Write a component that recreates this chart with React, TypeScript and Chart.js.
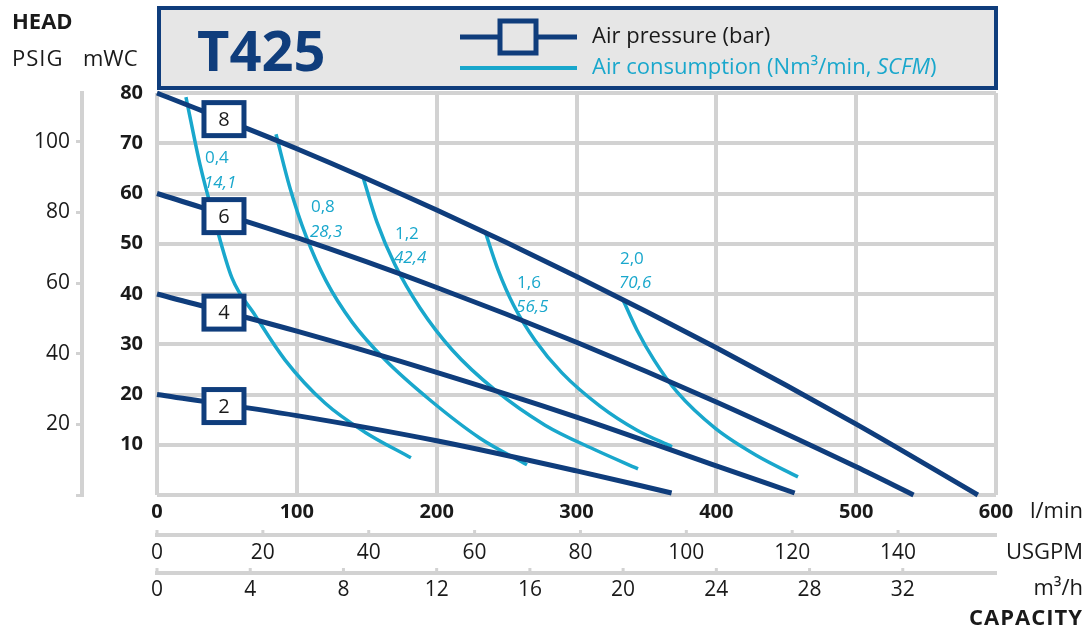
import React, { useEffect, useRef } from 'react';
import { Chart, registerables } from 'chart.js';

Chart.register(...registerables);

const FONT = "'Open Sans', 'DejaVu Sans', sans-serif";
const NAVY = '#0f3d7c';
const CYAN = '#19a7cc';
const GRID = '#d2d2d2';
const TEXT = '#1a1a1a';
const HEADER_BG = '#e6e6e6';

// Axis ticks
const LPM_TICKS = [0, 100, 200, 300, 400, 500, 600];
const USGPM_TICKS = [0, 20, 40, 60, 80, 100, 120, 140];
const M3H_TICKS = [0, 4, 8, 12, 16, 20, 24, 28, 32];
const MWC_TICKS = [0, 10, 20, 30, 40, 50, 60, 70, 80];
const PSIG_TICKS = [0, 20, 40, 60, 80, 100];

// Air pressure curves (bar): flow l/min vs head mWC
const PRESSURE_LABELS = ['8', '6', '4', '2'];
const P8_X = [0, 100, 200, 300, 400, 500, 587];
const P8_Y = [80, 68.9, 56.7, 43.5, 29.3, 14.1, 0];
const P6_X = [0, 100, 200, 300, 400, 500, 541];
const P6_Y = [60, 51.2, 41.3, 30.4, 18.5, 5.6, 0];
const P4_X = [0, 100, 200, 300, 400, 456];
const P4_Y = [40, 32.6, 24.4, 15.5, 5.8, 0.4];
const P2_X = [0, 100, 200, 300, 368];
const P2_Y = [20, 15.8, 10.8, 4.8, 0.4];
const BOX_X = [47.9, 47.9, 47.9, 47.9];
const BOX_Y = [74.8, 55.5, 36.3, 17.7];

// Air consumption curves (Nm3/min, SCFM)
const AIR_NM3 = ['0,4', '0,8', '1,2', '1,6', '2,0'];
const AIR_SCFM = ['14,1', '28,3', '42,4', '56,5', '70,6'];
const A04_X = [20.7, 30.8, 40.8, 53.6, 70.1, 91.5, 120.1, 148.7, 181.6];
const A04_Y = [79.2, 65.7, 55.1, 43.2, 35.8, 26.9, 18.3, 12.5, 7.4];
const A08_X = [85.1, 95.1, 106.6, 120.9, 139.5, 163.1, 195.2, 231.0, 264.6];
const A08_Y = [71.8, 61.1, 51.5, 42.6, 34.4, 26.9, 18.9, 11.3, 6.0];
const A12_X = [147.3, 157.3, 170.2, 188.1, 211.0, 241.7, 277.5, 313.2, 344.0];
const A12_Y = [63.3, 54.3, 45.8, 37.2, 28.9, 20.9, 13.9, 9.0, 5.2];
const A16_X = [234.6, 243.9, 255.3, 270.3, 289.6, 316.8, 343.3, 368.3];
const A16_Y = [52.5, 44.8, 37.6, 30.8, 24.3, 17.7, 12.9, 9.6];
const A20_X = [333.3, 343.3, 355.4, 371.9, 399.1, 429.1, 458.4];
const A20_Y = [38.8, 32.8, 26.9, 20.5, 13.3, 7.8, 3.6];
const AIR_LABEL_X = [34.3, 110.1, 170.2, 257.5, 331.1];
const AIR_LABEL_Y1 = [67.1, 57.3, 51.9, 42.2, 47.0];
const AIR_LABEL_Y2 = [62.1, 52.3, 47.2, 37.4, 42.2];

const LPM_PER_USGPM = 3.785411784;
const LPM_PER_M3H = 1000 / 60;
const PSI_PER_MWC = 1.42233;

const pts = (xs: number[], ys: number[]) => xs.map((x, i) => ({ x, y: ys[i] }));

const setTicks = (vals: number[]) => (scale: any) => {
  scale.ticks = vals.map((v) => ({ value: v }));
};

const overlay = {
  id: 'overlay',
  afterDatasetsDraw(chart: any) {
    const ctx = chart.ctx as CanvasRenderingContext2D;
    const xs = chart.scales.x;
    const ys = chart.scales.y;
    ctx.save();
    // pressure boxes
    for (let i = 0; i < PRESSURE_LABELS.length; i++) {
      const px = xs.getPixelForValue(BOX_X[i]);
      const py = ys.getPixelForValue(BOX_Y[i]);
      ctx.fillStyle = '#ffffff';
      ctx.fillRect(px - 20, py - 16.5, 40, 33);
      ctx.strokeStyle = NAVY;
      ctx.lineWidth = 5;
      ctx.strokeRect(px - 20, py - 16.5, 40, 33);
      ctx.fillStyle = TEXT;
      ctx.font = `20px ${FONT}`;
      ctx.textAlign = 'center';
      ctx.textBaseline = 'middle';
      ctx.fillText(PRESSURE_LABELS[i], px, py + 1);
    }
    // air consumption labels
    ctx.fillStyle = CYAN;
    ctx.textAlign = 'left';
    ctx.textBaseline = 'middle';
    for (let i = 0; i < AIR_NM3.length; i++) {
      const px = xs.getPixelForValue(AIR_LABEL_X[i]);
      ctx.font = `17px ${FONT}`;
      ctx.fillText(AIR_NM3[i], px, ys.getPixelForValue(AIR_LABEL_Y1[i]));
      ctx.font = `italic 17px ${FONT}`;
      ctx.fillText(AIR_SCFM[i], px - 1, ys.getPixelForValue(AIR_LABEL_Y2[i]));
    }
    ctx.restore();
  },
  afterDraw(chart: any) {
    const ctx = chart.ctx as CanvasRenderingContext2D;
    const area = chart.chartArea;
    ctx.save();
    // header box
    const hx = area.left + 2;
    const hw = area.right - area.left - 2;
    ctx.fillStyle = HEADER_BG;
    ctx.fillRect(hx, 8, hw, 80);
    ctx.strokeStyle = NAVY;
    ctx.lineWidth = 4;
    ctx.strokeRect(hx, 8, hw, 80);
    ctx.fillStyle = NAVY;
    ctx.font = `bold 56px ${FONT}`;
    ctx.textAlign = 'left';
    ctx.textBaseline = 'alphabetic';
    ctx.fillText('T425', 197, 71);
    // legend
    ctx.strokeStyle = NAVY;
    ctx.lineWidth = 5;
    ctx.beginPath();
    ctx.moveTo(460, 37);
    ctx.lineTo(577, 37);
    ctx.stroke();
    ctx.fillStyle = HEADER_BG;
    ctx.fillRect(500, 21, 36, 32);
    ctx.strokeRect(500, 21, 36, 32);
    ctx.strokeStyle = CYAN;
    ctx.lineWidth = 4;
    ctx.beginPath();
    ctx.moveTo(460, 68);
    ctx.lineTo(577, 68);
    ctx.stroke();
    ctx.textBaseline = 'middle';
    ctx.fillStyle = TEXT;
    ctx.font = `22px ${FONT}`;
    ctx.fillText('Air pressure (bar)', 592, 37);
    ctx.fillStyle = CYAN;
    let tx = 592;
    const seg = (t: string, f: string) => {
      ctx.font = f;
      ctx.fillText(t, tx, 68);
      tx += ctx.measureText(t).width;
    };
    seg('Air consumption (Nm³/min, ', `22px ${FONT}`);
    seg('SCFM', `italic 22px ${FONT}`);
    seg(')', `22px ${FONT}`);

    // left titles
    ctx.fillStyle = TEXT;
    ctx.textAlign = 'left';
    ctx.font = `bold 22px ${FONT}`;
    ctx.fillText('HEAD', 12, 23);
    ctx.font = `22px ${FONT}`;
    (ctx as any).letterSpacing = '1px';
    ctx.fillText('PSIG', 12, 60);
    (ctx as any).letterSpacing = '0px';
    ctx.fillText('mWC', 83, 60);

    // right unit labels
    ctx.textAlign = 'right';
    const rx = 1083;
    ctx.font = `22px ${FONT}`;
    ctx.fillText('l/min', rx, chart.scales.x.top + 17);
    ctx.fillText('USGPM', rx, chart.scales.x2.top + 18);
    ctx.fillText('m³/h', rx, chart.scales.x3.top + 16);
    ctx.font = `bold 22px ${FONT}`;
    (ctx as any).letterSpacing = '1px';
    ctx.fillText('CAPACITY', rx, chart.scales.x3.top + 46);
    (ctx as any).letterSpacing = '0px';

    // small upward stubs on secondary axes
    ctx.fillStyle = GRID;
    for (const id of ['x2', 'x3']) {
      const s = chart.scales[id];
      for (const t of s.ticks) {
        const p = s.getPixelForValue(t.value);
        ctx.fillRect(p - 1.5, s.top - 5, 3, 4);
      }
    }
    ctx.restore();
  },
};

export default function App() {
  const ref = useRef<HTMLCanvasElement | null>(null);
  useEffect(() => {
    if (!ref.current) return;
    const navyDs = [
      pts(P8_X, P8_Y),
      pts(P6_X, P6_Y),
      pts(P4_X, P4_Y),
      pts(P2_X, P2_Y),
    ].map((data, i) => ({
      label: `${PRESSURE_LABELS[i]} bar`,
      data,
      borderColor: NAVY,
      borderWidth: 5,
      pointRadius: 0,
      cubicInterpolationMode: 'monotone' as const,
      clip: false as any,
      borderCapStyle: 'butt' as const,
    }));
    const cyanDs = [
      pts(A04_X, A04_Y),
      pts(A08_X, A08_Y),
      pts(A12_X, A12_Y),
      pts(A16_X, A16_Y),
      pts(A20_X, A20_Y),
    ].map((data, i) => ({
      label: AIR_NM3[i],
      data,
      borderColor: CYAN,
      borderWidth: 3.5,
      pointRadius: 0,
      cubicInterpolationMode: 'monotone' as const,
      clip: false as any,
    }));
    const tickFont = { family: FONT, size: 21 };
    const boldFont = { family: FONT, size: 20, weight: 'bold' as const };
    const chart = new Chart(ref.current, {
      type: 'line',
      data: { datasets: [...navyDs, ...cyanDs] as any },
      options: {
        animation: false,
        responsive: false,
        maintainAspectRatio: false,
        layout: { padding: { top: 93, right: 92, bottom: 27, left: 0 } },
        plugins: { legend: { display: false }, tooltip: { enabled: false } },
        elements: { point: { radius: 0 } },
        scales: {
          x: {
            type: 'linear',
            position: 'bottom',
            weight: 0,
            min: 0,
            max: 600,
            afterBuildTicks: setTicks(LPM_TICKS),
            afterFit: (s: any) => { s.height = 40; },
            grid: { color: GRID, lineWidth: 4, drawTicks: false },
            border: { display: false },
            ticks: { font: boldFont, color: TEXT, padding: 5, maxRotation: 0 },
          },
          x2: {
            type: 'linear',
            position: 'bottom',
            weight: 1,
            min: 0,
            max: 600 / LPM_PER_USGPM,
            afterBuildTicks: setTicks(USGPM_TICKS),
            afterFit: (s: any) => { s.height = 38; },
            grid: { drawOnChartArea: false, drawTicks: false },
            border: { display: true, color: GRID, width: 4 },
            ticks: { font: tickFont, color: TEXT, padding: 5, maxRotation: 0 },
          },
          x3: {
            type: 'linear',
            position: 'bottom',
            weight: 2,
            min: 0,
            max: 600 / LPM_PER_M3H,
            afterBuildTicks: setTicks(M3H_TICKS),
            afterFit: (s: any) => { s.height = 32; },
            grid: { drawOnChartArea: false, drawTicks: false },
            border: { display: true, color: GRID, width: 4 },
            ticks: { font: tickFont, color: TEXT, padding: 4, maxRotation: 0 },
          },
          y: {
            type: 'linear',
            position: 'left',
            weight: 0,
            min: 0,
            max: 80,
            afterBuildTicks: setTicks(MWC_TICKS),
            afterFit: (s: any) => { s.width = 75; },
            grid: { color: GRID, lineWidth: 4, drawTicks: false },
            border: { display: false },
            ticks: {
              font: boldFont,
              color: TEXT,
              padding: 14,
              callback: (v: any) => (v === 0 ? '' : String(v)),
            },
          },
          psig: {
            type: 'linear',
            position: 'left',
            weight: 1,
            min: 0,
            max: 80 * PSI_PER_MWC,
            afterBuildTicks: setTicks(PSIG_TICKS),
            afterFit: (s: any) => { s.width = 82; },
            grid: { drawOnChartArea: false, drawTicks: true, tickLength: 6, color: GRID, lineWidth: 3 },
            border: { display: true, color: GRID, width: 4 },
            ticks: {
              font: tickFont,
              color: TEXT,
              padding: 6,
              callback: (v: any) => (v === 0 ? '' : String(v)),
            },
          },
        },
      },
      plugins: [overlay],
    });
    return () => chart.destroy();
  }, []);
  return (
    <div style={{ position: 'fixed', left: 0, top: 0, width: 1088, height: 632, background: '#ffffff' }}>
      <canvas ref={ref} width={1088} height={632} style={{ width: 1088, height: 632, display: 'block' }} />
    </div>
  );
}
